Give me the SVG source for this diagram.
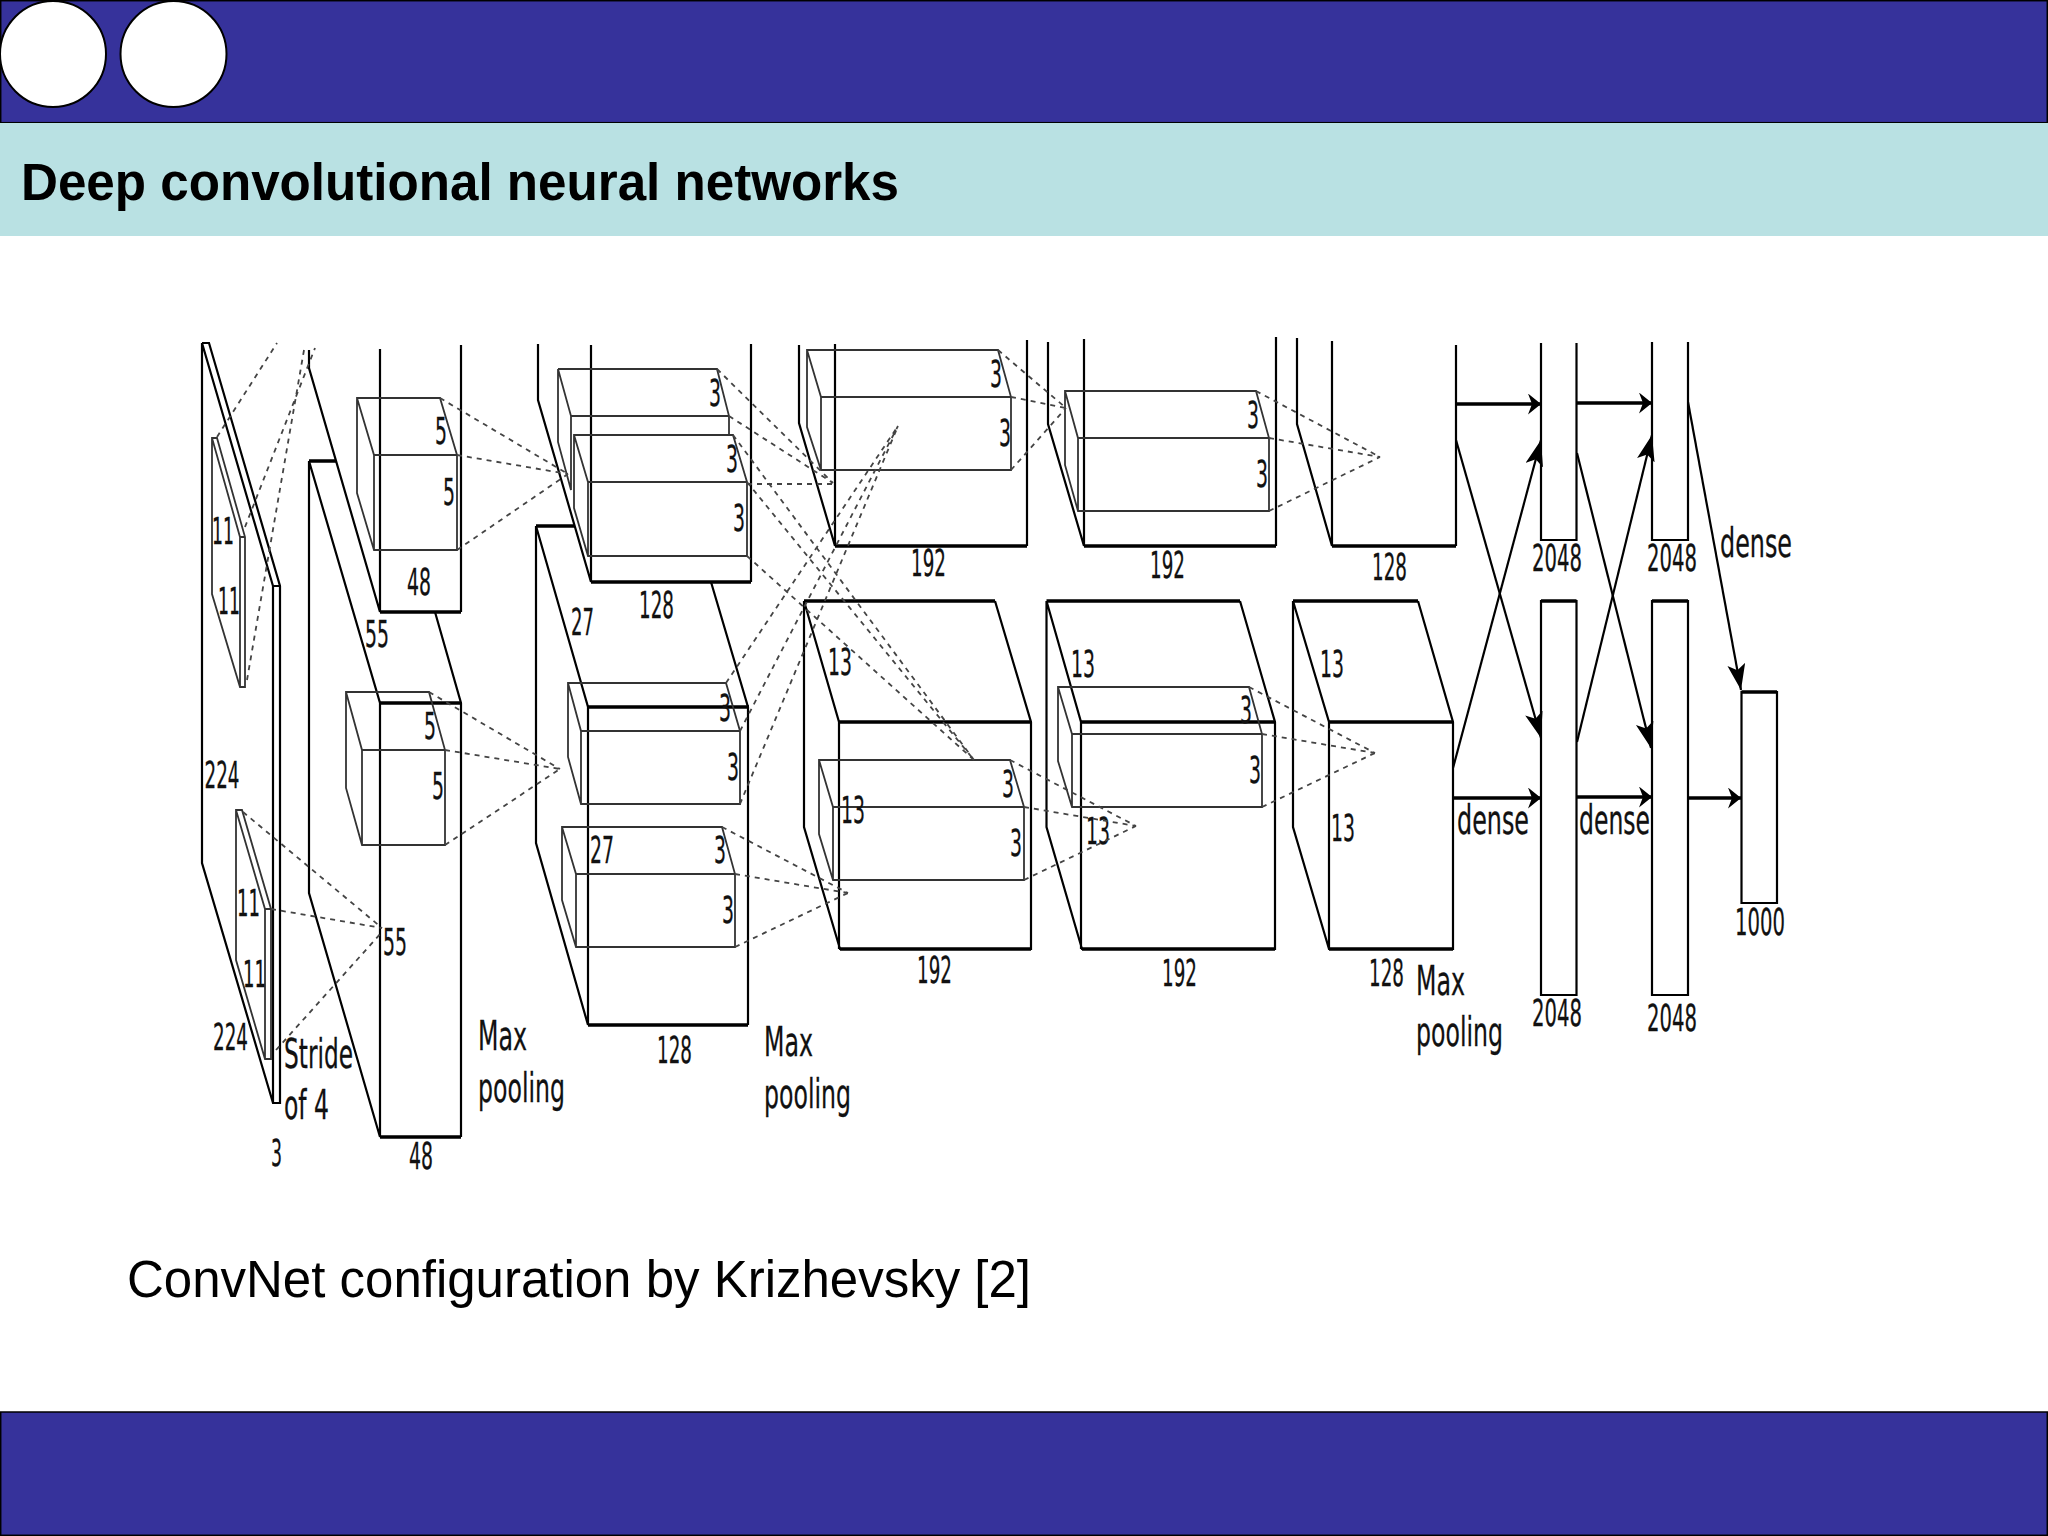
<svg xmlns="http://www.w3.org/2000/svg" width="2048" height="1536" viewBox="0 0 2048 1536">
<style>
.v{fill:none;stroke:#000;stroke-width:2.2}
.t{fill:none;stroke:#000;stroke-width:3.6}
.b{fill:none;stroke:#333;stroke-width:1.8}
.d{fill:none;stroke:#444;stroke-width:1.8;stroke-dasharray:5 5}
.a{fill:none;stroke:#000;stroke-width:2.2;marker-end:url(#h)}
.at{fill:none;stroke:#000;stroke-width:3.4;marker-end:url(#h2)}
.n{font-family:"DejaVu Sans",sans-serif;font-size:36.5px;fill:#111;stroke:#111;stroke-width:.3}
.w{font-family:"DejaVu Sans",sans-serif;font-size:41px;fill:#111;stroke:#111;stroke-width:.3}
.bar{fill:#36329B;stroke:#000;stroke-width:1.5}
</style>
<defs>
<marker id="h" markerUnits="userSpaceOnUse" markerWidth="30" markerHeight="20" refX="26" refY="9" orient="auto"><path d="M26,9L0,0L6,9L0,18Z" fill="#000"/></marker>
<marker id="h2" markerUnits="userSpaceOnUse" markerWidth="24" markerHeight="24" refX="14" refY="10.500" orient="auto"><path d="M14,10.500L1,0L5,10.500L1,21Z" fill="#000"/></marker>
</defs>
<rect width="2048" height="1536" fill="#fff"/>
<g id="header">
<rect class="bar" x="0.7" y="0.7" width="2046.6" height="122"/>
<circle cx="53" cy="54" r="53" fill="#fff" stroke="#000" stroke-width="2"/>
<circle cx="173.500" cy="54" r="53" fill="#fff" stroke="#000" stroke-width="2"/>
</g>
<g id="title">
<rect x="0" y="123" width="2048" height="113" fill="#B9E1E3"/>
<text x="21" y="200" font-family="Liberation Sans, Arial, sans-serif" font-weight="700" font-size="51" fill="#000" textLength="878" lengthAdjust="spacingAndGlyphs">Deep convolutional neural networks</text>
</g>
<g id="footer"><rect class="bar" x="0.7" y="1412" width="2046.6" height="123.3"/></g>
<text id="caption" x="127" y="1297" font-family="Liberation Sans, Arial, sans-serif" font-size="51" fill="#000" textLength="904" lengthAdjust="spacingAndGlyphs">ConvNet configuration by Krizhevsky [2]</text>

<g id="input">
<path class="v" d="M202,343H209L280,586V1103H273L202,863V343M202,343L273,586H280M273,586V1103"/>
<path class="b" d="M212,438H217L245,537V687H240L212,594ZM212,438L240,537H245M240,537V687"/>
<path class="b" d="M236,810H242L271,909V1059H265L236,960ZM236,810L265,909H271M265,909V1059"/>
<text class="n" x="212" y="544" textLength="22" lengthAdjust="spacingAndGlyphs">11</text>
<text class="n" x="218" y="614" textLength="22" lengthAdjust="spacingAndGlyphs">11</text>
<text class="n" x="204.500" y="788" textLength="35" lengthAdjust="spacingAndGlyphs">224</text>
<text class="n" x="237" y="916" textLength="23" lengthAdjust="spacingAndGlyphs">11</text>
<text class="n" x="243" y="987" textLength="23" lengthAdjust="spacingAndGlyphs">11</text>
<text class="n" x="213" y="1050" textLength="35" lengthAdjust="spacingAndGlyphs">224</text>
<text class="w" x="284" y="1068" textLength="69" lengthAdjust="spacingAndGlyphs">Stride</text>
<text class="w" x="284" y="1119" textLength="45" lengthAdjust="spacingAndGlyphs">of 4</text>
<text class="n" x="271" y="1166" textLength="11" lengthAdjust="spacingAndGlyphs">3</text>
</g>

<g id="layer1-top">
<path class="v" d="M309,350V368L380,612V349M461,345V612"/>
<path class="t" d="M380,612H461"/>
<path class="b" d="M357,398H440L457,455V550H374L357,493ZM357,398L374,455H457M374,455V550"/>
<text class="n" x="435" y="444" textLength="12" lengthAdjust="spacingAndGlyphs">5</text>
<text class="n" x="443" y="505" textLength="12" lengthAdjust="spacingAndGlyphs">5</text>
<text class="n" x="407" y="595" textLength="24" lengthAdjust="spacingAndGlyphs">48</text>
</g>
<g id="layer1-bottom">
<path class="v" d="M309,461V893L380,1137V703L309,461M435,612L461,703V1137"/>
<path class="t" d="M309,461H336M380,703H461M380,1137H461"/>
<path class="b" d="M346,692H429L445,750V845H362L346,788ZM346,692L362,750H445M362,750V845"/>
<text class="n" x="424" y="739" textLength="12" lengthAdjust="spacingAndGlyphs">5</text>
<text class="n" x="432" y="799" textLength="12" lengthAdjust="spacingAndGlyphs">5</text>
<text class="n" x="365" y="647" textLength="24" lengthAdjust="spacingAndGlyphs">55</text>
<text class="n" x="383" y="955" textLength="24" lengthAdjust="spacingAndGlyphs">55</text>
<text class="n" x="409" y="1169" textLength="24" lengthAdjust="spacingAndGlyphs">48</text>
<text class="w" x="478" y="1050" textLength="49" lengthAdjust="spacingAndGlyphs">Max</text>
<text class="w" x="478" y="1102" textLength="87" lengthAdjust="spacingAndGlyphs">pooling</text>
</g>

<g id="layer2-top">
<path class="v" d="M538,344V400L591,582V345M751,344V582"/>
<path class="t" d="M591,582H751"/>
<path class="b" d="M558,369H717L729,416V435M558,369V442L571,490V416L558,369M571,416H729"/>
<path class="b" d="M574,435H733L747,482V556H588L574,508ZM574,435L588,482H747M588,482V556"/>
<text class="n" x="709" y="406" textLength="12" lengthAdjust="spacingAndGlyphs">3</text>
<text class="n" x="726" y="472" textLength="12" lengthAdjust="spacingAndGlyphs">3</text>
<text class="n" x="733" y="531" textLength="12" lengthAdjust="spacingAndGlyphs">3</text>
<text class="n" x="639" y="618" textLength="35" lengthAdjust="spacingAndGlyphs">128</text>
</g>
<g id="layer2-bottom">
<path class="v" d="M536,526L588,707V1025L536,843V526M711,582L748,707V1025"/>
<path class="t" d="M536,526H575M588,707H749M588,1025H748"/>
<path class="b" d="M568,683H726L740,731V804H581L568,757ZM568,683L581,731H740M581,731V804"/>
<path class="b" d="M562,827H722L735,874V947H576L562,900ZM562,827L576,874H735M576,874V947"/>
<text class="n" x="571" y="635" textLength="23" lengthAdjust="spacingAndGlyphs">27</text>
<text class="n" x="719" y="721" textLength="12" lengthAdjust="spacingAndGlyphs">3</text>
<text class="n" x="727" y="780" textLength="12" lengthAdjust="spacingAndGlyphs">3</text>
<text class="n" x="590" y="863" textLength="24" lengthAdjust="spacingAndGlyphs">27</text>
<text class="n" x="714" y="863" textLength="12" lengthAdjust="spacingAndGlyphs">3</text>
<text class="n" x="722" y="923" textLength="12" lengthAdjust="spacingAndGlyphs">3</text>
<text class="n" x="657" y="1063" textLength="35" lengthAdjust="spacingAndGlyphs">128</text>
<text class="w" x="764" y="1056" textLength="49" lengthAdjust="spacingAndGlyphs">Max</text>
<text class="w" x="764" y="1108" textLength="87" lengthAdjust="spacingAndGlyphs">pooling</text>
</g>

<g id="layer3-top">
<path class="v" d="M799,345V423L835,546V344M1027,340V546"/>
<path class="t" d="M835,546H1027"/>
<path class="b" d="M807,350H998L1011,397V470H821L807,427ZM807,350L821,397H1011M821,397V470"/>
<text class="n" x="990" y="387" textLength="12" lengthAdjust="spacingAndGlyphs">3</text>
<text class="n" x="999" y="446" textLength="12" lengthAdjust="spacingAndGlyphs">3</text>
<text class="n" x="911" y="576" textLength="35" lengthAdjust="spacingAndGlyphs">192</text>
</g>
<g id="layer3-bottom">
<path class="v" d="M804,601V827L840,949H1031V722L995,601M804,601L839,722V949"/>
<path class="t" d="M804,601H995M839,722H1031M840,949H1031"/>
<path class="b" d="M819,760H1010L1024,807V880H833L819,834ZM819,760L833,807H1024M833,807V880"/>
<text class="n" x="828" y="675" textLength="24" lengthAdjust="spacingAndGlyphs">13</text>
<text class="n" x="841" y="823" textLength="24" lengthAdjust="spacingAndGlyphs">13</text>
<text class="n" x="1002" y="797" textLength="12" lengthAdjust="spacingAndGlyphs">3</text>
<text class="n" x="1010" y="856" textLength="12" lengthAdjust="spacingAndGlyphs">3</text>
<text class="n" x="917" y="983" textLength="35" lengthAdjust="spacingAndGlyphs">192</text>
</g>

<g id="layer4-top">
<path class="v" d="M1048,342V424L1084,546V339M1276,337V546"/>
<path class="t" d="M1084,546H1276"/>
<path class="b" d="M1065,391H1256L1269,438V511H1078L1065,465ZM1065,391L1078,438H1269M1078,438V511"/>
<text class="n" x="1247" y="428" textLength="12" lengthAdjust="spacingAndGlyphs">3</text>
<text class="n" x="1256" y="487" textLength="12" lengthAdjust="spacingAndGlyphs">3</text>
<text class="n" x="1150" y="578" textLength="35" lengthAdjust="spacingAndGlyphs">192</text>
</g>
<g id="layer4-bottom">
<path class="v" d="M1046.500,601V827L1082,949H1275V722L1240,601M1046.500,601L1081,722V949"/>
<path class="t" d="M1046.500,601H1240M1081,722H1275M1082,949H1275"/>
<path class="b" d="M1058,687H1249L1262,734V807H1072L1058,761ZM1058,687L1072,734H1262M1072,734V807"/>
<text class="n" x="1071" y="677" textLength="24" lengthAdjust="spacingAndGlyphs">13</text>
<text class="n" x="1240" y="723" textLength="12" lengthAdjust="spacingAndGlyphs">3</text>
<text class="n" x="1249" y="783" textLength="12" lengthAdjust="spacingAndGlyphs">3</text>
<text class="n" x="1086" y="844" textLength="24" lengthAdjust="spacingAndGlyphs">13</text>
<text class="n" x="1162" y="986" textLength="35" lengthAdjust="spacingAndGlyphs">192</text>
</g>

<g id="layer5-top">
<path class="v" d="M1297,338V424L1332,546V341M1456,345V546"/>
<path class="t" d="M1332,546H1456"/>
<text class="n" x="1372" y="580" textLength="35" lengthAdjust="spacingAndGlyphs">128</text>
</g>
<g id="layer5-bottom">
<path class="v" d="M1293,601V827L1329,949H1453V722L1418,601M1293,601L1329,722V949"/>
<path class="t" d="M1293,601H1418M1329,722H1453M1329,949H1453"/>
<text class="n" x="1320" y="677" textLength="24" lengthAdjust="spacingAndGlyphs">13</text>
<text class="n" x="1331" y="841" textLength="24" lengthAdjust="spacingAndGlyphs">13</text>
<text class="n" x="1369" y="986" textLength="35" lengthAdjust="spacingAndGlyphs">128</text>
<text class="w" x="1416" y="995" textLength="49" lengthAdjust="spacingAndGlyphs">Max</text>
<text class="w" x="1416" y="1046" textLength="87" lengthAdjust="spacingAndGlyphs">pooling</text>
</g>

<g id="dense1-top">
<path class="v" d="M1541,343V540H1576.500V343"/>
<text class="n" x="1532" y="571" textLength="50" lengthAdjust="spacingAndGlyphs">2048</text>
</g>
<g id="dense1-bottom">
<path class="v" d="M1541,601H1576.500V995H1541Z"/>
<path class="t" d="M1541,601H1576.500"/>
<text class="n" x="1532" y="1026" textLength="50" lengthAdjust="spacingAndGlyphs">2048</text>
</g>
<g id="dense2-top">
<path class="v" d="M1652,342V540H1688V342"/>
<text class="n" x="1647" y="571" textLength="50" lengthAdjust="spacingAndGlyphs">2048</text>
</g>
<g id="dense2-bottom">
<path class="v" d="M1652,601H1688V995H1652Z"/>
<path class="t" d="M1652,601H1688"/>
<text class="n" x="1647" y="1031" textLength="50" lengthAdjust="spacingAndGlyphs">2048</text>
</g>
<g id="output">
<path class="v" d="M1741.500,692H1777V903H1741.500Z"/>
<path class="t" d="M1741.500,692H1777"/>
<text class="n" x="1735" y="935" textLength="50" lengthAdjust="spacingAndGlyphs">1000</text>
</g>

<g id="connectors">
<path class="d" d="M217,437L277,343M245,527L315,348M247,680L304,350"/>
<path class="d" d="M243,812L382,928M271,909L382,928M276,1050L382,932"/>
<path class="d" d="M440,398L568,474M457,455L568,474M457,550L568,474"/>
<path class="d" d="M429,692L560,769M445,750L560,769M445,845L560,769"/>
<path class="d" d="M717,369L833,483M729,416L833,483M747,484L835,484"/>
<path class="d" d="M733,435L974,760M747,482L974,760M747,556L974,760"/>
<path class="d" d="M726,683L898,426M740,731L898,426M740,804L898,426"/>
<path class="d" d="M722,827L848,893M735,874L848,893M735,947L848,893"/>
<path class="d" d="M998,350L1066,408M1011,397L1066,408M1011,470L1066,408"/>
<path class="d" d="M1010,760L1136,826M1024,807L1136,826M1024,880L1136,826"/>
<path class="d" d="M1256,391L1380,457M1269,438L1380,457M1269,511L1380,457"/>
<path class="d" d="M1249,687L1375,753M1262,734L1375,753M1262,807L1375,753"/>
<path class="at" d="M1456,404H1541"/>
<path class="at" d="M1577,403H1652"/>
<path class="at" d="M1453,798H1541"/>
<path class="at" d="M1577,797H1652"/>
<path class="at" d="M1688,798H1741"/>
<path class="a" d="M1456,440L1541,738"/>
<path class="a" d="M1453,768L1541,440"/>
<path class="a" d="M1577,453L1651,748"/>
<path class="a" d="M1577,742L1652,435"/>
<path class="a" d="M1688,402L1741,690"/>
<text class="w" x="1457" y="834" textLength="72" lengthAdjust="spacingAndGlyphs">dense</text>
<text class="w" x="1579" y="834" textLength="71" lengthAdjust="spacingAndGlyphs">dense</text>
<text class="w" x="1720" y="557" textLength="72" lengthAdjust="spacingAndGlyphs">dense</text>
</g>
</svg>
